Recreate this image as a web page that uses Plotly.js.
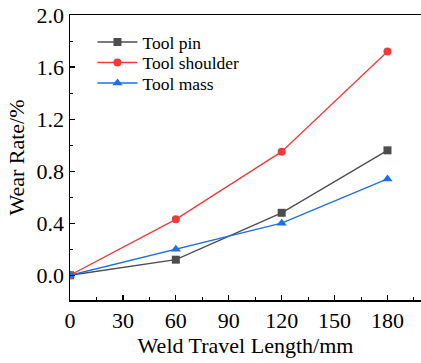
<!DOCTYPE html>
<html>
<head>
<meta charset="utf-8">
<script src="https://cdn.plot.ly/plotly-3.0.1.min.js"></script>
<style>
html,body{margin:0;padding:0;background:#fff;}
#chart{width:421px;height:363px;}
#chart text{font-family:"Liberation Serif","Times New Roman",serif !important;}
</style>
</head>
<body>
<div id="chart"></div>
<script>
const travelLength = [0, 60, 120, 180];
const toolPin = [0, 0.12, 0.48, 0.96];
const toolShoulder = [0, 0.43, 0.95, 1.72];
const toolMass = [0, 0.20, 0.40, 0.74];
const seriesNames = ["Tool pin", "Tool shoulder", "Tool mass"];

const traces = [
  {x: travelLength, y: toolPin, name: seriesNames[0], mode: "lines+markers",
   line: {color: "#4d4d4d", width: 1.3}, marker: {symbol: "square", size: 8, color: "#4d4d4d"}},
  {x: travelLength, y: toolShoulder, name: seriesNames[1], mode: "lines+markers",
   line: {color: "#f03a3a", width: 1.3}, marker: {symbol: "circle", size: 8, color: "#f03a3a"}},
  {x: travelLength, y: toolMass, name: seriesNames[2], mode: "lines+markers",
   line: {color: "#1e6fe6", width: 1.3}, marker: {symbol: "triangle-up", size: 9, color: "#1e6fe6"}}
];

const FF = "Liberation Serif";
const layout = {
  width: 421, height: 363,
  margin: {l: 70, r: 0, t: 15, b: 63},
  paper_bgcolor: "#fff", plot_bgcolor: "#fff",
  font: {family: FF, color: "#000", size: 18},
  showlegend: true,
  legend: {x: 0.064, y: 0.968, xanchor: "left", yanchor: "top", bgcolor: "rgba(0,0,0,0)",
           font: {family: FF, size: 17.5, color: "#000"}, itemwidth: 40, tracegroupgap: 0},
  xaxis: {
    range: [0, 199], tickvals: [0, 30, 60, 90, 120, 150, 180],
    showgrid: false, zeroline: false, showline: true, linecolor: "#000", linewidth: 1.5, mirror: true,
    ticks: "inside", ticklen: 5, tickwidth: 1.2, tickcolor: "#000",
    minor: {dtick: 15, ticks: "inside", ticklen: 3, tickwidth: 1, tickcolor: "#000", showgrid: false},
    tickfont: {family: FF, size: 22, color: "#000"},
    title: {text: "Weld Travel Length/mm", font: {family: FF, size: 22, color: "#000"}, standoff: 4}
  },
  yaxis: {
    range: [-0.19, 2.0], tickvals: [0, 0.4, 0.8, 1.2, 1.6, 2.0], tickformat: ".1f",
    showgrid: false, zeroline: false, showline: true, linecolor: "#000", linewidth: 1.5,
    ticks: "inside", ticklen: 5, tickwidth: 1.2, tickcolor: "#000",
    minor: {dtick: 0.2, ticks: "inside", ticklen: 3, tickwidth: 1, tickcolor: "#000", showgrid: false},
    tickfont: {family: FF, size: 22, color: "#000"},
    title: {text: "Wear Rate/%", font: {family: FF, size: 22, color: "#000"}, standoff: 6}
  }
};
Plotly.newPlot("chart", traces, layout, {displayModeBar: false, staticPlot: true}).then(function (gd) {
  // tighten legend row spacing to match the reference
  const items = gd.querySelectorAll(".legend .traces");
  let y0 = null;
  items.forEach(function (g, i) {
    const m = /translate\(([-\d.]+),\s*([-\d.]+)\)/.exec(g.getAttribute("transform") || "");
    if (!m) return;
    const x = parseFloat(m[1]), y = parseFloat(m[2]);
    if (y0 === null) y0 = y;
    g.setAttribute("transform", "translate(" + x + "," + (y0 + i * 20.5) + ")");
  });
});
</script>
</body>
</html>
